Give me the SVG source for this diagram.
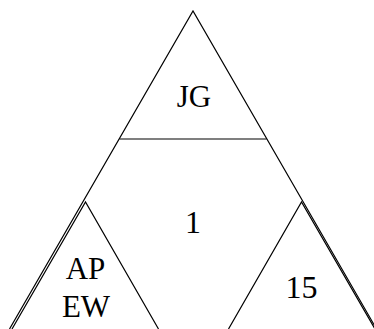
<svg xmlns="http://www.w3.org/2000/svg" width="374" height="329" viewBox="0 0 374 329">
<style>
.e{fill:none;stroke:#000;stroke-width:1.2}
.t{font-family:"Liberation Serif","Times New Roman",serif;fill:#000;text-anchor:middle}
</style>
<rect width="374" height="329" fill="#fff"/>
<g id="edges">
<polyline class="e" points="9.5,329 193,11 376.5,329"/>
<line class="e" x1="119.5" y1="139" x2="266.5" y2="139"/>
</g>
<g id="node-JG">
<text class="t" x="194" y="107" font-size="31">JG</text>
</g>
<g id="node-1">
<text class="t" x="193" y="233" font-size="32">1</text>
</g>
<g id="node-APEW">
<polyline class="e" points="12,329 85.5,202 158.5,329"/>
<text class="t" x="85.5" y="279" font-size="31">AP</text>
<text class="t" x="86" y="316.5" font-size="31">EW</text>
</g>
<g id="node-15">
<polyline class="e" points="228.5,329 301.5,202 375,329"/>
<text class="t" x="301.5" y="298" font-size="32">15</text>
</g>
</svg>
